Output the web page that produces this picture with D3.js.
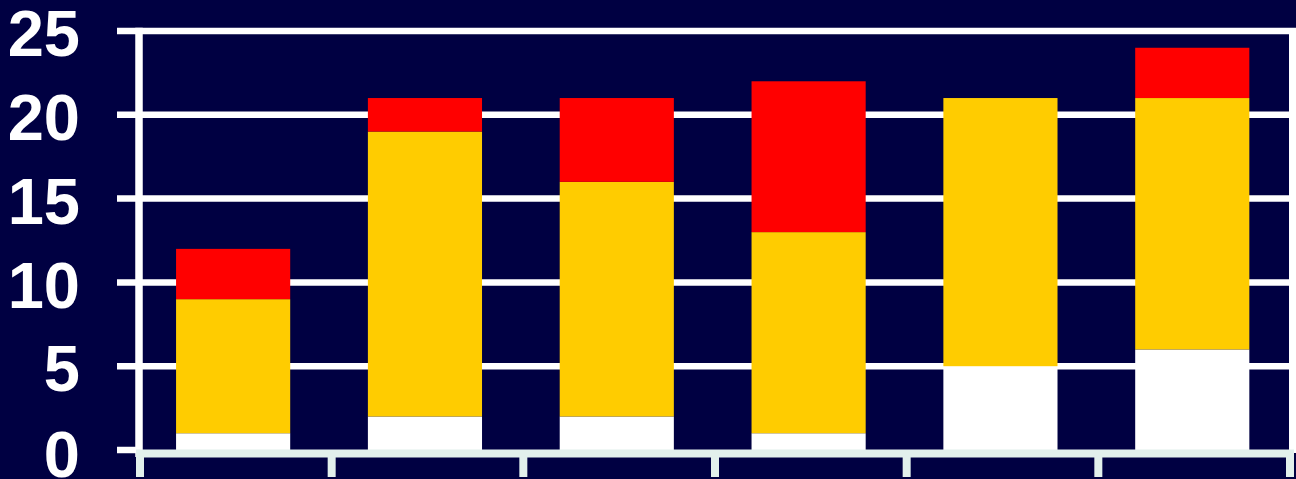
<!DOCTYPE html>
<html>
<head>
<meta charset="utf-8">
<script src="https://cdn.jsdelivr.net/npm/d3@7"></script>
<style>
  html, body { margin: 0; padding: 0; background: #000042; }
  svg { display: block; }
</style>
</head>
<body>
<svg id="chart" width="1296" height="479"></svg>
<script>
// Groups along the x axis (no labels are shown for them)
const categories = ["A", "B", "C", "D", "E", "F"];
// Stacked segments, bottom to top
const seriesKeys = ["white", "yellow", "red"];
const whiteValues  = [1, 2, 2, 1, 5, 6];
const yellowValues = [8, 17, 14, 12, 16, 15];
const redValues    = [3, 2, 5, 9, 0, 3];
const yTicks = [0, 5, 10, 15, 20, 25];

const colors = { white: "#ffffff", yellow: "#ffcc00", red: "#ff0000" };

const rows = categories.map((c, i) => ({
  cat: c, white: whiteValues[i], yellow: yellowValues[i], red: redValues[i]
}));

const svg = d3.select("#chart");
const W = 1296, H = 479;
svg.append("rect").attr("width", W).attr("height", H).attr("fill", "#000042");

const plotLeft = 140, plotRight = 1290, plotTop = 31, plotBottom = 450;

const x = d3.scaleBand().domain(categories).range([plotLeft, plotRight])
  .paddingInner(0.405).paddingOuter(0.2).align(0.47);
const y = d3.scaleLinear().domain([0, 25]).range([plotBottom, plotTop]);

// Gridlines with short ticks sticking out to the left
svg.append("g").selectAll("line").data(yTicks.filter(t => t > 0)).join("line")
  .attr("x1", 117).attr("x2", plotRight - 1)
  .attr("y1", d => y(d)).attr("y2", d => y(d))
  .attr("stroke", "#ffffff").attr("stroke-width", 6.5);

// Right frame
svg.append("line").attr("x1", plotRight + 2.5).attr("x2", plotRight + 2.5)
  .attr("y1", y(25) - 3.25).attr("y2", plotBottom + 3)
  .attr("stroke", "#ffffff").attr("stroke-width", 7);

// Stacked bars
const stacked = d3.stack().keys(seriesKeys)(rows);
svg.append("g").selectAll("g").data(stacked).join("g")
  .attr("fill", s => colors[s.key])
  .selectAll("rect").data(s => s).join("rect")
  .attr("x", d => x(d.data.cat))
  .attr("width", x.bandwidth())
  .attr("y", d => y(d[1]))
  .attr("height", d => y(d[0]) - y(d[1]));

// Left axis line
svg.append("line").attr("x1", 139).attr("x2", 139)
  .attr("y1", y(25) - 3.25).attr("y2", plotBottom + 7)
  .attr("stroke", "#ffffff").attr("stroke-width", 7.5);

// Zero tick on the left
svg.append("line").attr("x1", 117).attr("x2", 139)
  .attr("y1", y(0)).attr("y2", y(0))
  .attr("stroke", "#ffffff").attr("stroke-width", 6.5);

// Bottom axis with category boundary ticks
const axisColor = "#e2f0ec";
svg.append("line").attr("x1", 136).attr("x2", plotRight + 4)
  .attr("y1", plotBottom + 3.5).attr("y2", plotBottom + 3.5)
  .attr("stroke", axisColor).attr("stroke-width", 8);
const boundaryX = d3.range(categories.length + 1)
  .map(i => plotLeft + i * (plotRight - plotLeft) / categories.length);
svg.append("g").selectAll("line").data(boundaryX).join("line")
  .attr("x1", d => d).attr("x2", d => d)
  .attr("y1", plotBottom + 3).attr("y2", 477)
  .attr("stroke", axisColor).attr("stroke-width", 8);

// Y tick labels
const fontSize = 65;
svg.append("g").selectAll("text").data(yTicks).join("text")
  .attr("x", 80)
  .attr("y", d => y(d) + (d === 0 ? 3.5 : 2) + 0.358 * fontSize)
  .attr("text-anchor", "end")
  .attr("font-family", "Liberation Sans, Arial, sans-serif")
  .attr("font-weight", "bold").attr("font-size", fontSize)
  .attr("fill", "#ffffff")
  .text(d => d);
</script>
</body>
</html>
